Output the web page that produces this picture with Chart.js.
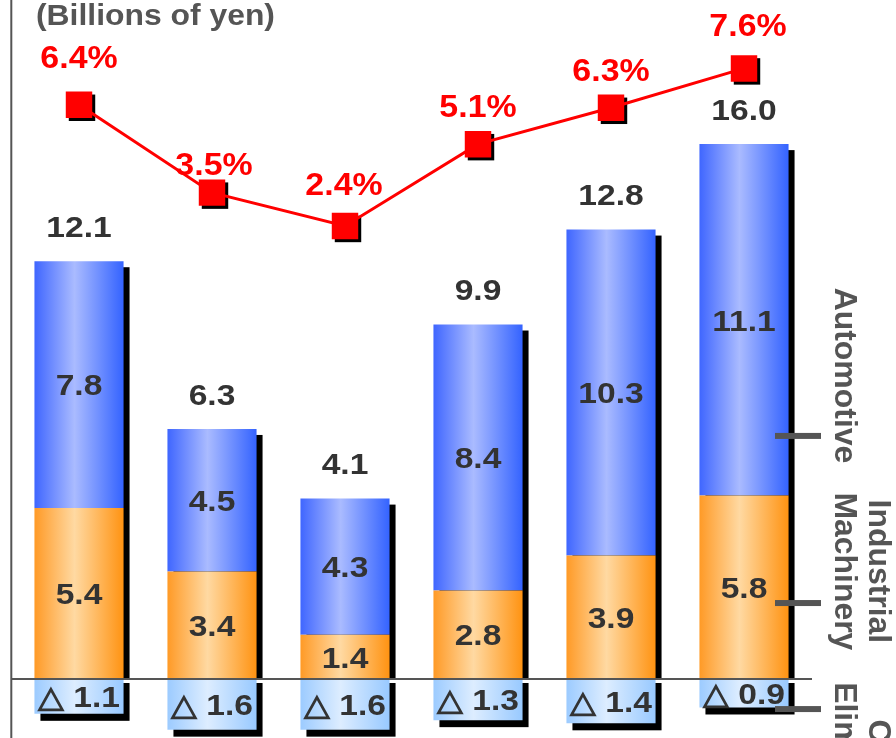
<!DOCTYPE html>
<html>
<head>
<meta charset="utf-8">
<style>
  html, body { margin: 0; padding: 0; background: #ffffff; }
  canvas { display: block; }
</style>
<script src="https://cdn.jsdelivr.net/npm/chart.js@4.4.1/dist/chart.umd.min.js"></script>
</head>
<body>
<canvas id="chart" width="896" height="738"></canvas>
<script>
// Segment results by period (billions of yen) and operating margin (%)
const periods = ['Period 1', 'Period 2', 'Period 3', 'Period 4', 'Period 5', 'Period 6'];
const industrialMachinery = [5.4, 3.4, 1.4, 2.8, 3.9, 5.8];
const automotive = [7.8, 4.5, 4.3, 8.4, 10.3, 11.1];
const eliminations = [-1.1, -1.6, -1.6, -1.3, -1.4, -0.9];
const marginPct = [6.4, 3.5, 2.4, 5.1, 6.3, 7.6];

const unitLabel = '(Billions of yen)';
const segmentNames = [['Automotive'], ['Industrial', 'Machinery'], ['Corp. &', 'Eliminations']];

const BAR_PCT = 0.67;
const FONT = '"Liberation Sans", Arial, Helvetica, sans-serif';

// Horizontal "cylinder" gradient for each bar segment
function barGradient(edgeL, mid, edgeR) {
  return (c) => {
    const chart = c.chart;
    const xs = chart.scales.x;
    if (!chart.chartArea || !xs || c.type !== 'data') return mid;
    const cx = xs.getPixelForValue(c.dataIndex);
    const half = (xs.width / periods.length) * BAR_PCT / 2;
    const g = chart.ctx.createLinearGradient(cx - half, 0, cx + half, 0);
    g.addColorStop(0, edgeL);
    g.addColorStop(0.45, mid);
    g.addColorStop(1, edgeR);
    return g;
  };
}

function drawText(ctx, s, x, yMid, size, color, sx, align) {
  ctx.save();
  ctx.font = 'bold ' + size + 'px ' + FONT;
  ctx.fillStyle = color;
  ctx.textAlign = align || 'center';
  ctx.textBaseline = 'alphabetic';
  ctx.translate(x, yMid + size * 0.358);
  ctx.scale(sx, 1);
  ctx.fillText(s, 0, 0);
  ctx.restore();
}

// Drop shadows behind the stacked bars
const barShadow = {
  id: 'barShadow',
  beforeDatasetsDraw(chart) {
    const ctx = chart.ctx;
    const y0 = chart.scales.y.getPixelForValue(0);
    const metas = [0, 1, 2].map(i => chart.getDatasetMeta(i));
    ctx.save();
    ctx.fillStyle = '#000000';
    periods.forEach((_, i) => {
      let top = y0, bottom = y0, x = 0, w = 0;
      metas.forEach(m => {
        const p = m.data[i].getProps(['x', 'y', 'base', 'width'], true);
        top = Math.min(top, p.y, p.base);
        bottom = Math.max(bottom, p.y, p.base);
        x = p.x; w = p.width;
      });
      const l = x - w / 2 + 6;
      ctx.fillRect(l, top + 6, w, y0 - top - 6);
      if (bottom > y0 + 1) ctx.fillRect(l, y0 + 4, w, bottom - y0 + 3);
    });
    ctx.restore();
  }
};

// Shadows under the square markers of the margin line
const markerShadow = {
  id: 'markerShadow',
  beforeDatasetDraw(chart, args) {
    if (args.index !== 3) return;
    const ctx = chart.ctx;
    const ds = chart.data.datasets[3];
    const side = 2 * Math.SQRT1_2 * ds.pointRadius;
    ctx.save();
    ctx.fillStyle = '#000000';
    args.meta.data.forEach(pt => {
      ctx.fillRect(pt.x - side / 2 + 3, pt.y - side / 2 + 3, side, side);
    });
    ctx.restore();
  }
};

// Axis lines, value labels and segment captions
const annotations = {
  id: 'annotations',
  afterDatasetsDraw(chart, args, opts) {
    const ctx = chart.ctx;
    const area = chart.chartArea;
    const ys = chart.scales.y;
    const y0 = ys.getPixelForValue(0);

    ctx.save();
    ctx.strokeStyle = '#555555';
    ctx.lineWidth = 2;
    ctx.beginPath();
    ctx.moveTo(area.left - 1.2, 0);
    ctx.lineTo(area.left - 1.2, chart.height);
    ctx.moveTo(area.left - 1.2, y0);
    ctx.lineTo(area.right + 1.5, y0);
    ctx.stroke();
    ctx.restore();

    // values inside each segment
    [0, 1, 2].forEach(d => {
      const meta = chart.getDatasetMeta(d);
      const vals = chart.data.datasets[d].data;
      meta.data.forEach((el, i) => {
        const p = el.getProps(['x', 'y', 'base'], true);
        const v = vals[i];
        const txt = v < 0 ? '\u25B3 ' + Math.abs(v).toFixed(1) : v.toFixed(1);
        drawText(ctx, txt, p.x, (p.y + p.base) / 2, opts.numSize, '#333333', opts.numScale);
      });
    });

    // net totals above each bar
    const m1 = chart.getDatasetMeta(1);
    periods.forEach((_, i) => {
      const total = industrialMachinery[i] + automotive[i] + eliminations[i];
      const el = m1.data[i].getProps(['x', 'y'], true);
      drawText(ctx, total.toFixed(1), el.x, el.y - opts.totalGap, opts.numSize, '#333333', opts.numScale);
    });

    // margin labels
    const m3 = chart.getDatasetMeta(3);
    m3.data.forEach((pt, i) => {
      drawText(ctx, marginPct[i].toFixed(1) + '%', pt.x + opts.pctDx[i], pt.y - opts.pctRise[i],
        opts.pctSize, '#ff0000', opts.pctScale);
    });
  },
  afterDraw(chart, args, opts) {
    const ctx = chart.ctx;
    const area = chart.chartArea;
    const ys = chart.scales.y;

    // unit caption
    ctx.save();
    ctx.font = 'bold ' + opts.titleSize + 'px ' + FONT;
    ctx.fillStyle = '#555555';
    ctx.textAlign = 'left';
    ctx.textBaseline = 'alphabetic';
    ctx.translate(36, 25);
    ctx.scale(opts.titleScale, 1);
    ctx.fillText(unitLabel, 0, 0);
    ctx.restore();

    // segment captions on the right, rotated
    segmentNames.forEach((lines, k) => {
      const cfg = opts.captions[k];
      const cy = ys.getPixelForValue(cfg.at);
      const cx = area.right + cfg.dx;
      ctx.save();
      ctx.font = 'bold ' + opts.capSize + 'px ' + FONT;
      ctx.fillStyle = '#555555';
      ctx.textAlign = 'center';
      ctx.textBaseline = 'alphabetic';
      ctx.translate(cx, cy);
      ctx.rotate(Math.PI / 2);
      lines.forEach((ln, j) => {
        const off = (j - (lines.length - 1) / 2) * opts.capLead;
        ctx.save();
        ctx.translate(0, off + opts.capSize * 0.358);
        ctx.scale(opts.capScale, 1);
        ctx.fillText(ln, 0, 0);
        ctx.restore();
      });
      ctx.restore();

      // short pointer tick
      const ty = ys.getPixelForValue(cfg.tick);
      ctx.save();
      ctx.fillStyle = '#555555';
      ctx.fillRect(area.right - 35.5, ty - 3, 46, 6);
      ctx.restore();
    });
  }
};

new Chart(document.getElementById('chart'), {
  data: {
    labels: periods,
    datasets: [
      {
        type: 'bar', label: 'Industrial Machinery', data: industrialMachinery, yAxisID: 'y',
        backgroundColor: barGradient('#ff9a26', '#ffd9a2', '#ff9312'), stack: 's', order: 2
      },
      {
        type: 'bar', label: 'Automotive', data: automotive, yAxisID: 'y',
        backgroundColor: barGradient('#3f66ff', '#aabbff', '#3463ff'), stack: 's', order: 2
      },
      {
        type: 'bar', label: 'Eliminations', data: eliminations, yAxisID: 'y',
        backgroundColor: barGradient('#9ccbff', '#ddedff', '#98c9ff'), stack: 's', order: 2
      },
      {
        type: 'line', label: 'Operating margin', data: marginPct, yAxisID: 'y2',
        borderColor: '#ff0000', borderWidth: 3, tension: 0,
        pointStyle: 'rect', pointRadius: 18.7, pointHoverRadius: 18.7,
        pointBackgroundColor: '#ff0000', pointBorderWidth: 0, order: 0
      }
    ]
  },
  options: {
    responsive: false,
    animation: false,
    devicePixelRatio: 1,
    layout: { autoPadding: false, padding: { left: 12.5, right: 85.5, top: 0, bottom: 0 } },
    datasets: { bar: { barPercentage: BAR_PCT, categoryPercentage: 1, borderWidth: 0 } },
    scales: {
      x: { type: 'category', display: false, stacked: true, offset: true },
      y: { display: false, stacked: true, min: -1.864, max: 21.453 },
      y2: { display: false, position: 'right', min: -14.5, max: 9.858 }
    },
    plugins: {
      legend: { display: false },
      tooltip: { enabled: false },
      annotations: {
        numSize: 30, numScale: 1.12, totalGap: 35,
        pctSize: 32, pctScale: 1.06,
        pctRise: [48, 29.5, 42, 38.5, 38, 43.5],
        pctDx: [0, 2, -1, 0, 0, 4],
        titleSize: 29.5, titleScale: 1.08,
        capSize: 31, capScale: 1.03, capLead: 34,
        captions: [
          { at: 9.59, dx: 35.5, tick: 7.68 },
          { at: 3.40, dx: 52.5, tick: 2.40 },
          { at: -3.10, dx: 52.5, tick: -0.95 }
        ]
      }
    }
  },
  plugins: [barShadow, markerShadow, annotations]
});
</script>
</body>
</html>
